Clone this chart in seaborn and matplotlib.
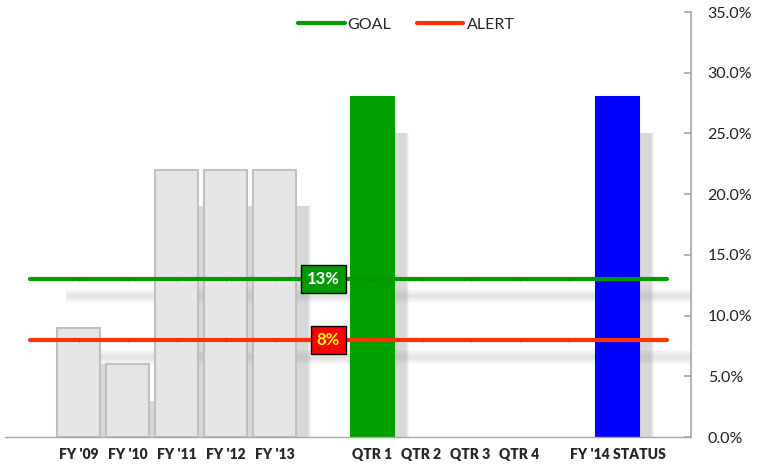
import numpy as np
import pandas as pd
import matplotlib
matplotlib.use('Agg')
import matplotlib.pyplot as plt
import seaborn as sns
from matplotlib.ticker import PercentFormatter, FixedLocator

# Chart data (percent)
labels = ['', "FY '09", "FY '10", "FY '11", "FY '12", "FY '13", '',
          'QTR 1', 'QTR 2', 'QTR 3', 'QTR 4', '', "FY '14 STATUS", '']
values = [0, 9, 6, 22, 22, 22, 0, 28, 0, 0, 0, 0, 28, 0]
bar_colors = ['#e6e6e6', '#e6e6e6', '#e6e6e6', '#e6e6e6', '#e6e6e6', '#e6e6e6', '#e6e6e6',
              '#00a000', '#e6e6e6', '#e6e6e6', '#e6e6e6', '#e6e6e6', '#0000ff', '#e6e6e6']
edge_colors = ['#c0c0c0'] * 7 + ['#00a000'] + ['#c0c0c0'] * 4 + ['#0000ff', '#c0c0c0']
goal = 13
alert = 8
y_ticks = [0, 5, 10, 15, 20, 25, 30, 35]

sns.set_style('white')
plt.rcParams['font.family'] = ['Lato', 'DejaVu Sans']

df = pd.DataFrame({'slot': [f's{i}' for i in range(len(labels))], 'value': values})
x = np.arange(len(labels))

fig = plt.figure(figsize=(7.63, 4.65), dpi=100)
ax = fig.add_axes([5 / 763, 28 / 465, 686 / 763, 425 / 465])

# soft drop shadows behind bars (blurred by stacking transparent layers)
for grow in np.linspace(0, 0.14, 6):
    ax.bar(x + 0.3, np.clip(np.array(values) - 3, 0, None), width=0.75 + grow,
           color='#9a9a9a', alpha=0.07, zorder=1, linewidth=0)

# soft shadows under the goal / alert lines
for y0 in (goal, alert):
    for dy in np.linspace(0, 0.5, 5):
        ax.fill_between([0.75, 14], y0 - 1.5 - dy, y0 - 1.3 + dy,
                        color='#9a9a9a', alpha=0.06, zorder=1, linewidth=0)

sns.barplot(data=df, x='slot', y='value', hue='slot', palette=bar_colors,
            saturation=1, legend=False, width=0.86, ax=ax, zorder=2)
for patch, ec, v in zip(ax.patches[-len(values):], edge_colors, values):
    patch.set_edgecolor(ec)
    patch.set_linewidth(1.5 if v > 0 else 0)
    patch.set_zorder(2)

# goal & alert lines
ax.plot([0, 13], [goal, goal], color='#009900', lw=3, zorder=3,
        solid_capstyle='round', label='GOAL')
ax.plot([0, 13], [alert, alert], color='#ff3300', lw=3, zorder=3,
        solid_capstyle='round', label='ALERT')
ax.plot(x[1:-1], [goal] * (len(x) - 2), ls='none', marker='|', ms=2.5, mew=0.8,
        color='#008800', alpha=0.6, zorder=3)
ax.plot(x[1:-1], [alert] * (len(x) - 2), ls='none', marker='|', ms=2.5, mew=0.8,
        color='#dd2a00', alpha=0.6, zorder=3)

ax.text(6, goal, f'{goal}%', ha='center', va='center', fontsize=12,
        fontweight='bold', color='white', zorder=5,
        bbox=dict(boxstyle='square,pad=0.35', fc='#009900', ec='black', lw=1))
ax.text(6.1, alert, f'{alert}%', ha='center', va='center', fontsize=12,
        fontweight='bold', color='#ffff00', zorder=5,
        bbox=dict(boxstyle='square,pad=0.35', fc='#ff0000', ec='black', lw=1))

ax.legend(loc='upper center', bbox_to_anchor=(0.585, 1.02), ncol=2, frameon=False,
          fontsize=11.5, handlelength=2.9, columnspacing=1.6, handletextpad=0.2)

# axes styling
ax.set_xlim(-0.5, 13.5)
ax.set_ylim(0, 35)
ax.yaxis.tick_right()
ax.set_yticks(y_ticks)
ax.yaxis.set_major_formatter(PercentFormatter(decimals=1))
ax.tick_params(axis='y', direction='in', length=5, width=1.2, color='#a6a6a6',
               labelsize=11.5, pad=12, labelcolor='#222222')
ax.set_xticks(x)
ax.set_xticklabels(labels, fontsize=10, fontweight='heavy')
ax.xaxis.set_minor_locator(FixedLocator(np.arange(-0.5, 13.6, 1)))
ax.tick_params(axis='x', which='major', length=0, pad=8)
ax.tick_params(axis='x', which='minor', length=5, width=1, color='#a6a6a6')
ax.set_xlabel('')
ax.set_ylabel('')
for side in ('top', 'left'):
    ax.spines[side].set_visible(False)
ax.spines['right'].set_color('#a6a6a6')
ax.spines['right'].set_linewidth(1.2)
ax.spines['bottom'].set_color('#a6a6a6')
ax.spines['bottom'].set_linewidth(1)

fig.savefig('out.png', dpi=100)
